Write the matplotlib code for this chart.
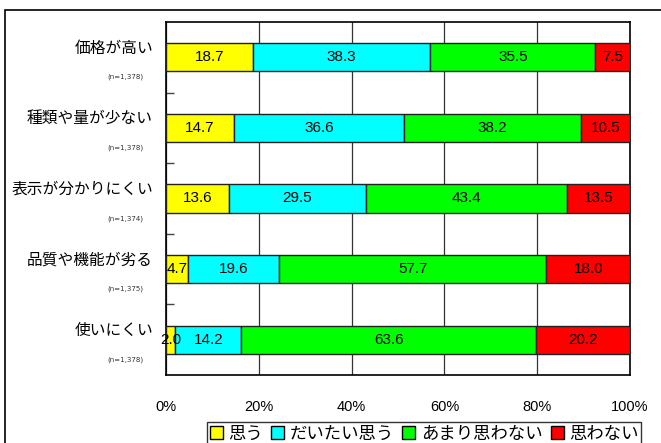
import matplotlib
matplotlib.use("Agg")
import matplotlib.pyplot as plt
from matplotlib.patches import Rectangle
import numpy as np

plt.rcParams['font.family'] = ['Noto Sans CJK JP', 'DejaVu Sans']

categories = ["価格が高い", "種類や量が少ない", "表示が分かりにくい", "品質や機能が劣る", "使いにくい"]
sample_sizes = ["(n=1,378)", "(n=1,378)", "(n=1,374)", "(n=1,375)", "(n=1,378)"]
series_names = ["思う", "だいたい思う", "あまり思わない", "思わない"]
omou = [18.7, 14.7, 13.6, 4.7, 2.0]
daitai = [38.3, 36.6, 29.5, 19.6, 14.2]
amari = [35.5, 38.2, 43.4, 57.7, 63.6]
omowanai = [7.5, 10.5, 13.5, 18.0, 20.2]
x_ticks = [0, 20, 40, 60, 80, 100]
x_tick_labels = ["0%", "20%", "40%", "60%", "80%", "100%"]

colors = ["#FFFF00", "#00FFFF", "#00FF00", "#FF0000"]

W, H = 661, 443
fig = plt.figure(figsize=(W / 100, H / 100), dpi=100)

# outer frame of the chart area
fig.patches.append(Rectangle((5 / W, -0.1), 1.2, 1 - 10 / H + 0.1,
                             transform=fig.transFigure, fill=False,
                             edgecolor="black", linewidth=1.2))

ax = fig.add_axes([166 / W, 1 - 375 / H, (630 - 166) / W, (375 - 22) / H])

series = [omou, daitai, amari, omowanai]
n = len(categories)
y = np.arange(n)
left = np.zeros(n)
for vals, col in zip(series, colors):
    vals = np.array(vals)
    ax.barh(y, vals, left=left, height=0.4, color=col, edgecolor="#222222",
            linewidth=1.0, zorder=3)
    for yi, l, v in zip(y, left, vals):
        ax.text(l + v / 2, yi, f"{v:.1f}", ha="center", va="center",
                fontsize=11, family="Liberation Sans", zorder=4)
    left += vals

ax.set_xlim(0, 100)
ax.set_ylim(n - 0.5, -0.5)
ax.set_xticks(x_ticks)
ax.set_xticklabels(x_tick_labels, fontsize=10.5, family="Liberation Sans")
ax.tick_params(axis="x", length=0, pad=18)
ax.grid(axis="x", color="#333333", linewidth=0.9, zorder=0)
ax.set_yticks([i + 0.5 for i in range(n - 1)])
ax.set_yticklabels([])
ax.tick_params(axis="y", direction="in", length=6, width=1, color="#444444")
for s in ax.spines.values():
    s.set_linewidth(1.2)
    s.set_color("black")

trans = ax.get_yaxis_transform()
for yi, cat, ns in zip(y, categories, sample_sizes):
    ax.text(-13 / 464, yi - 0.13, cat, transform=trans, ha="right",
            va="center", fontsize=11.3)
    ax.text(-23 / 464, yi + 0.28, ns, transform=trans, ha="right",
            va="center", fontsize=5, family="DejaVu Sans", color="#333333")

handles = [Rectangle((0, 0), 1, 1, facecolor=c, edgecolor="black", linewidth=1)
           for c in colors]
leg = fig.legend(handles, series_names, loc="upper left",
                 bbox_to_anchor=(207 / W, 1 - 422 / H), ncol=4,
                 fontsize=12.5, frameon=True, fancybox=False,
                 handlelength=0.75, handleheight=0.75, handletextpad=0.3,
                 columnspacing=0.5, borderpad=0.15, borderaxespad=0)
leg.get_frame().set_edgecolor("black")
leg.get_frame().set_linewidth(1)

fig.savefig("out.png", dpi=100)
